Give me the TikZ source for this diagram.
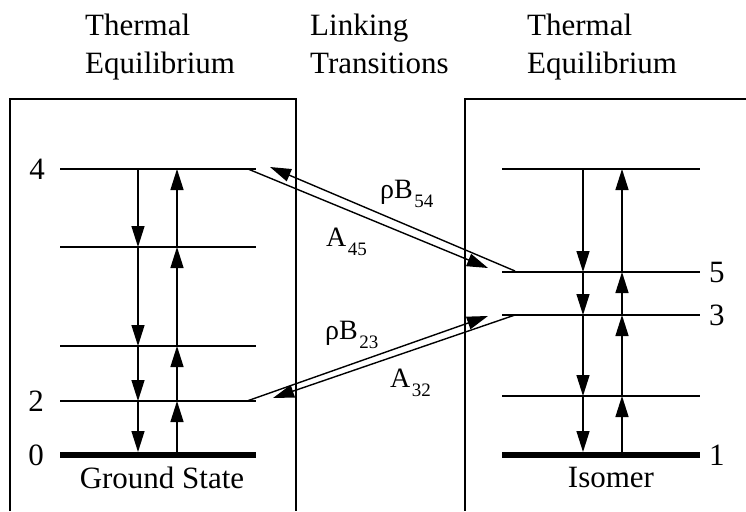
\documentclass[tikz,border=0pt]{standalone}
\usepackage{fontspec}
\setmainfont{Liberation Serif}
\usetikzlibrary{arrows.meta}
\newcommand{\lsub}[1]{\hspace{1.5pt}\raisebox{-9pt}{\fontsize{19}{19}\selectfont #1}}
\begin{document}
\begin{tikzpicture}[x=1pt,y=-1pt,
  lvl/.style={line width=1.4pt},
  groundline/.style={line width=6.5pt},
  boxline/.style={line width=1.4pt},
  arr/.style={line width=1.4pt,-{Triangle[length=21pt,width=13pt]}},
  txt/.style={inner sep=0pt,font=\fontsize{31}{31}\selectfont},
  rate/.style={inner sep=0pt,font=\fontsize{28}{28}\selectfont,anchor=base west},
]
\useasboundingbox (0,0) rectangle (746,511);

% headings
\node[txt,anchor=base west] (h1a) at (85,36) {Thermal};
\node[txt,anchor=base west] (h1b) at (85,74) {Equilibrium};
\node[txt,anchor=base west] (h2a) at (310,36) {Linking};
\node[txt,anchor=base west] (h2b) at (310,74) {Transitions};
\node[txt,anchor=base west] (h3a) at (527,36) {Thermal};
\node[txt,anchor=base west] (h3b) at (527,74) {Equilibrium};

% boxes (open at the bottom / right edge of the picture)
\coordinate (lbl) at (10,511);
\coordinate (ltl) at (10,99);
\coordinate (ltr) at (296,99);
\coordinate (lbr) at (296,511);
\draw[boxline] (lbl) -- (ltl) -- (ltr) -- (lbr);
\coordinate (rtr) at (746,99);
\coordinate (rtl) at (465,99);
\coordinate (rbl) at (465,511);
\draw[boxline] (rtr) -- (rtl) -- (rbl);

% left levels
\coordinate (L4a) at (60,169);  \coordinate (L4b) at (256,169);
\coordinate (Lca) at (60,247);  \coordinate (Lcb) at (256,247);
\coordinate (Lba) at (60,346);  \coordinate (Lbb) at (256,346);
\coordinate (L2a) at (60,401);  \coordinate (L2b) at (256,401);
\coordinate (L0a) at (60,455);  \coordinate (L0b) at (256,455);
\draw[lvl] (L4a) -- (L4b);
\draw[lvl] (Lca) -- (Lcb);
\draw[lvl] (Lba) -- (Lbb);
\draw[lvl] (L2a) -- (L2b);
\draw[groundline] (L0a) -- (L0b);

% right levels
\coordinate (R7a) at (502,169);  \coordinate (R7b) at (700,169);
\coordinate (R5a) at (502,272);  \coordinate (R5b) at (700,272);
\coordinate (R3a) at (502,315);  \coordinate (R3b) at (700,315);
\coordinate (R2a) at (502,396);  \coordinate (R2b) at (700,396);
\coordinate (R1a) at (502,455);  \coordinate (R1b) at (700,455);
\draw[lvl] (R7a) -- (R7b);
\draw[lvl] (R5a) -- (R5b);
\draw[lvl] (R3a) -- (R3b);
\draw[lvl] (R2a) -- (R2b);
\draw[groundline] (R1a) -- (R1b);

% left vertical arrows
\coordinate (ld1) at (138,169); \coordinate (ld2) at (138,247);
\coordinate (ld3) at (138,346); \coordinate (ld4) at (138,401);
\coordinate (ld5) at (138,452);
\draw[arr] (ld1) -- (ld2);
\draw[arr] (ld2) -- (ld3);
\draw[arr] (ld3) -- (ld4);
\draw[arr] (ld4) -- (ld5);
\coordinate (lu1) at (177,455); \coordinate (lu2) at (177,401);
\coordinate (lu3) at (177,346); \coordinate (lu4) at (177,247);
\coordinate (lu5) at (177,169);
\draw[arr] (lu1) -- (lu2);
\draw[arr] (lu2) -- (lu3);
\draw[arr] (lu3) -- (lu4);
\draw[arr] (lu4) -- (lu5);

% right vertical arrows
\coordinate (rd1) at (583,169); \coordinate (rd2) at (583,272);
\coordinate (rd3) at (583,315); \coordinate (rd4) at (583,396);
\coordinate (rd5) at (583,452);
\draw[arr] (rd1) -- (rd2);
\draw[arr] (rd2) -- (rd3);
\draw[arr] (rd3) -- (rd4);
\draw[arr] (rd4) -- (rd5);
\coordinate (ru1) at (622,455); \coordinate (ru2) at (622,396);
\coordinate (ru3) at (622,315); \coordinate (ru4) at (622,272);
\coordinate (ru5) at (622,169);
\draw[arr] (ru1) -- (ru2);
\draw[arr] (ru2) -- (ru3);
\draw[arr] (ru3) -- (ru4);
\draw[arr] (ru4) -- (ru5);

% linking transitions
\coordinate (a45s) at (248,169); \coordinate (a45e) at (488,268);
\coordinate (b54s) at (515,271); \coordinate (b54e) at (270,167);
\draw[arr] (a45s) -- (a45e);
\draw[arr] (b54s) -- (b54e);
\coordinate (b23s) at (247,401); \coordinate (b23e) at (488,316);
\coordinate (a32s) at (515,315); \coordinate (a32e) at (273,398);
\draw[arr] (b23s) -- (b23e);
\draw[arr] (a32s) -- (a32e);

% rate labels
\node[rate] (tb54) at (380,198) {ρB\lsub{54}};
\node[rate] (ta45) at (326,246) {A\lsub{45}};
\node[rate] (tb23) at (325,339) {ρB\lsub{23}};
\node[rate] (ta32) at (390,387) {A\lsub{32}};

% level numbers
\node[txt,anchor=east] (n4) at (45,169) {4};
\node[txt,anchor=east] (n2) at (44,401) {2};
\node[txt,anchor=east] (n0) at (44,455) {0};
\node[txt,anchor=west] (n5) at (709,272) {5};
\node[txt,anchor=west] (n3) at (709,315) {3};
\node[txt,anchor=west] (n1) at (709,455) {1};

% state names
\node[txt,anchor=base] (gs) at (162,488) {Ground State};
\node[txt,anchor=base] (iso) at (611,487) {Isomer};
\end{tikzpicture}
\end{document}
